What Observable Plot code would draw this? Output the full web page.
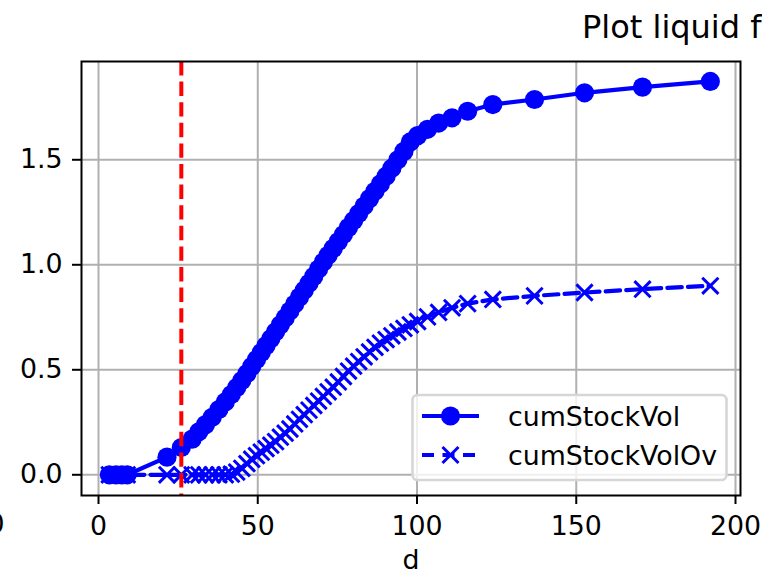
<!DOCTYPE html>
<html><head><meta charset="utf-8">
<script src="https://cdn.jsdelivr.net/npm/d3@7"></script>
<script src="https://cdn.jsdelivr.net/npm/@observablehq/plot@0.6"></script>
<style>body{margin:0;background:#fff;} svg{font-family:"DejaVu Sans";}</style>
</head><body><div id="chart"></div>
<script>
const d = [3.4, 5.5, 7.3, 9.0, 21.5, 26.0, 29.4, 31.5, 33.6, 35.7, 37.8, 39.8, 41.7, 43.4, 45.0, 46.6, 48.1, 49.6, 51.1, 52.6, 54.1, 55.6, 57.1, 58.6, 60.1, 61.6, 63.1, 64.6, 66.1, 67.6, 69.1, 70.6, 72.1, 73.7, 75.3, 76.9, 78.5, 80.1, 81.7, 83.4, 85.1, 86.8, 88.5, 90.3, 92.1, 94.0, 95.9, 97.9, 100.2, 103.3, 106.8, 111.0, 115.9, 123.8, 136.9, 152.6, 170.8, 192.1];
const cumStockVol = [0, 0, 0, 0, 0.084, 0.13, 0.17, 0.205, 0.239, 0.274, 0.311, 0.347, 0.382, 0.416, 0.449, 0.482, 0.516, 0.549, 0.582, 0.615, 0.648, 0.681, 0.714, 0.747, 0.780, 0.813, 0.846, 0.879, 0.912, 0.945, 0.980, 1.013, 1.045, 1.078, 1.111, 1.144, 1.178, 1.211, 1.244, 1.280, 1.315, 1.350, 1.385, 1.422, 1.460, 1.500, 1.540, 1.585, 1.615, 1.645, 1.675, 1.700, 1.731, 1.763, 1.787, 1.819, 1.846, 1.873];
const cumStockVolOv = [0, 0, 0, 0, 0, 0, 0, 0, 0, 0, 0, 0, 0.003, 0.013, 0.031, 0.053, 0.074, 0.091, 0.108, 0.125, 0.141, 0.158, 0.179, 0.198, 0.218, 0.242, 0.264, 0.286, 0.308, 0.330, 0.351, 0.373, 0.395, 0.417, 0.442, 0.468, 0.494, 0.517, 0.539, 0.562, 0.585, 0.607, 0.627, 0.644, 0.662, 0.680, 0.697, 0.714, 0.730, 0.752, 0.773, 0.795, 0.815, 0.835, 0.852, 0.868, 0.884, 0.9];
const markerLine = [26];
const xTicks = [0, 50, 100, 150, 200];
const yTicks = [0, 0.5, 1.0, 1.5];
const seriesNames = ["cumStockVol", "cumStockVolOv"];
const titleText = "Plot liquid fo";
const xLabel = "d";
const neighbourTick = "200";

const rows = d.map((x, i) => ({d: x, v: cumStockVol[i], ov: cumStockVolOv[i]}));
const blue = "#0000ff";
const dash = "14.4,6.2";
const fs = 26.8;

const chart = Plot.plot({
  width: 762, height: 575,
  marginLeft: 81, marginRight: 22, marginTop: 61, marginBottom: 80,
  x: {domain: [-5.34, 201.57]},
  y: {domain: [-0.0986, 1.968]},
  style: {fontFamily: "DejaVu Sans", fontSize: fs + "px", color: "black", background: "white", overflow: "hidden"},
  marks: [
    Plot.gridX(xTicks, {stroke: "#b0b0b0", strokeOpacity: 1, strokeWidth: 2}),
    Plot.gridY(yTicks, {stroke: "#b0b0b0", strokeOpacity: 1, strokeWidth: 2}),
    Plot.line(rows, {x: "d", y: "v", stroke: blue, strokeWidth: 4.2}),
    Plot.dot(rows, {x: "d", y: "v", r: 9.6, fill: blue, stroke: "none"}),
    Plot.line(rows, {x: "d", y: "ov", stroke: blue, strokeWidth: 4.2, strokeDasharray: dash}),
    Plot.dot(rows, {x: "d", y: "ov", symbol: "times", r: 7.4, stroke: blue, strokeWidth: 3}),
    Plot.ruleX(markerLine, {stroke: "red", strokeWidth: 4, strokeDasharray: dash}),
    Plot.frame({stroke: "black", strokeWidth: 2}),
    Plot.axisX(xTicks, {tickSize: 9, tickPadding: 11, strokeWidth: 2, fontSize: fs, label: xLabel, labelAnchor: "center", labelArrow: "none", labelOffset: 73}),
    Plot.axisY(yTicks, {tickSize: 9, tickPadding: 10, strokeWidth: 2, fontSize: fs, tickFormat: d3.format(".1f"), label: null})
  ]
});
document.getElementById("chart").appendChild(chart);

// decorations: title (cropped suptitle), neighbouring tick label, legend
const svg = d3.select(chart);
svg.append("text").attr("x", 582).attr("y", 38).attr("font-size", 32).attr("text-anchor", "start").attr("fill", "black").text(titleText);
svg.append("text").attr("x", 4.5).attr("y", 533).attr("font-size", fs).attr("text-anchor", "end").attr("fill", "black").text(neighbourTick);

const lg = svg.append("g");
lg.append("rect").attr("x", 412.5).attr("y", 395).attr("width", 314).attr("height", 85).attr("rx", 5)
  .attr("fill", "white").attr("fill-opacity", 0.8).attr("stroke", "#d6d6d6").attr("stroke-width", 2.6);
const rowsY = [416, 455];
// row 1: solid line + circle
lg.append("line").attr("x1", 422).attr("x2", 479).attr("y1", rowsY[0]).attr("y2", rowsY[0]).attr("stroke", blue).attr("stroke-width", 4.2);
lg.append("circle").attr("cx", 450.5).attr("cy", rowsY[0]).attr("r", 9.6).attr("fill", blue);
// row 2: dashed line + x marker
lg.append("line").attr("x1", 422).attr("x2", 479).attr("y1", rowsY[1]).attr("y2", rowsY[1]).attr("stroke", blue).attr("stroke-width", 4.2).attr("stroke-dasharray", "12,8.5");
lg.append("path").attr("d", "M-8,-8L8,8M-8,8L8,-8").attr("transform", `translate(450.5,${rowsY[1]})`).attr("stroke", blue).attr("stroke-width", 3);
seriesNames.forEach((n, i) => {
  lg.append("text").attr("x", 508).attr("y", rowsY[i]).attr("dy", "0.36em").attr("font-size", fs).attr("text-anchor", "start").attr("fill", "black").text(n);
});
</script></body></html>
